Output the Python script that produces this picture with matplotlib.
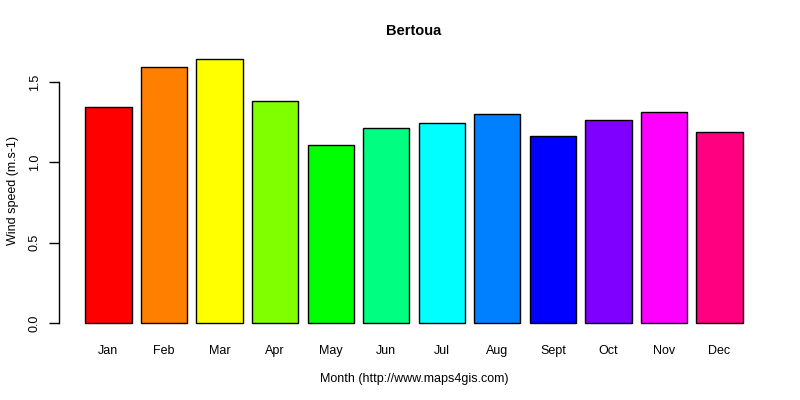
import matplotlib
matplotlib.use('Agg')
import matplotlib.pyplot as plt
import numpy as np

plt.rcParams['font.family'] = ['Liberation Sans', 'DejaVu Sans']

# Monthly mean wind speed, Bertoua
months = ['Jan', 'Feb', 'Mar', 'Apr', 'May', 'Jun', 'Jul', 'Aug', 'Sept', 'Oct', 'Nov', 'Dec']
wind = [1.344, 1.591, 1.643, 1.381, 1.106, 1.212, 1.243, 1.299, 1.162, 1.262, 1.312, 1.187]
colors = ['#FF0000', '#FF8000', '#FFFF00', '#80FF00', '#00FF00', '#00FF80',
          '#00FFFF', '#0080FF', '#0000FF', '#8000FF', '#FF00FF', '#FF0080']

fig = plt.figure(figsize=(8, 4), dpi=100)
ax = fig.add_axes([0.07375, 0.166, 0.8875, 0.713])

# R barplot layout: width 1, space 0.2
x = 0.2 + 1.2 * np.arange(len(months)) + 0.5
ax.bar(x, wind, width=1.0, color=colors, edgecolor='black', linewidth=1.0)

xmin, xmax = 0.2, 0.2 + 1.2 * len(months) - 0.2
ext = (xmax - xmin) * 0.04
ax.set_xlim(xmin - ext, xmax + ext)
ymax = max(wind)
ax.set_ylim(-0.04 * ymax, ymax * 1.04)

for s in ['top', 'right', 'bottom']:
    ax.spines[s].set_visible(False)
ax.spines['left'].set_bounds(0, 1.5)
ax.spines['left'].set_linewidth(1.0)

ax.set_yticks([0.0, 0.5, 1.0, 1.5])
ax.set_yticklabels(['0.0', '0.5', '1.0', '1.5'], rotation=90, va='center')
ax.tick_params(axis='y', length=7, width=1.0, pad=6, labelsize=9)
ax.set_xticks(x)
ax.set_xticklabels(months)
ax.tick_params(axis='x', length=0, pad=8, labelsize=9)

ax.set_ylabel('Wind speed (m.s-1)', fontsize=9, labelpad=7.5)
ax.set_xlabel('Month (http://www.maps4gis.com)', fontsize=9, labelpad=11.5)
ax.set_title('Bertoua', fontsize=10.5, fontweight='bold', pad=10)

fig.savefig('out.png', dpi=100)
